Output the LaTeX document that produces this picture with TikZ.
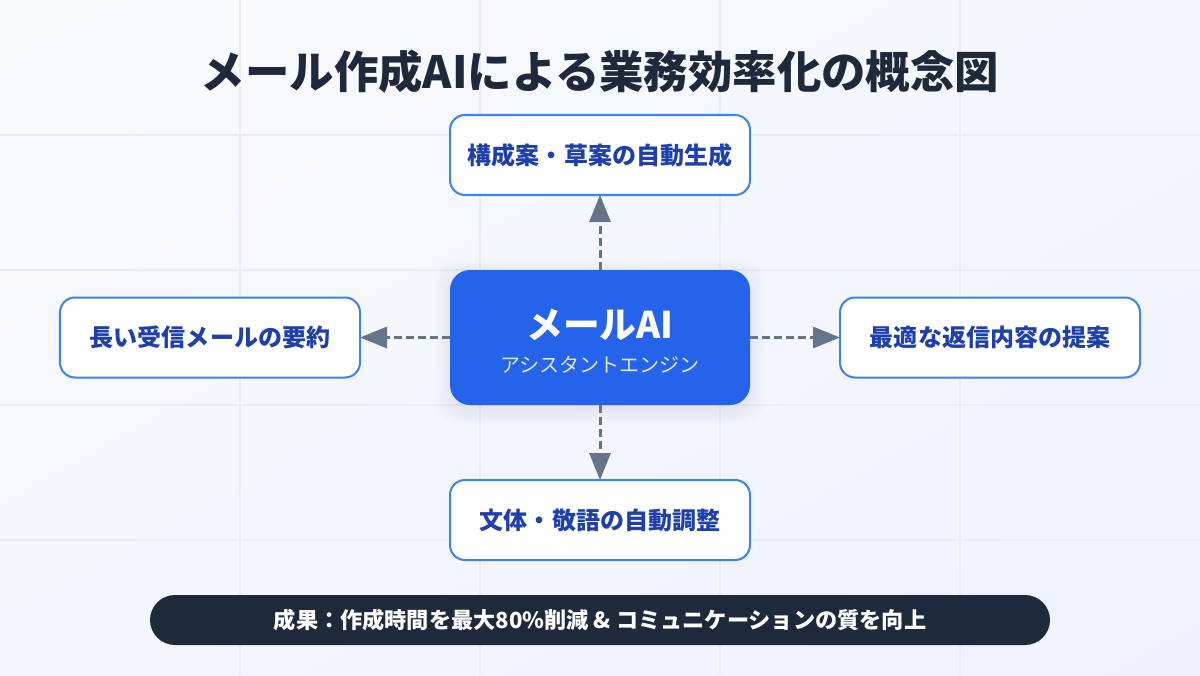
\documentclass[tikz,border=0pt]{standalone}
\usepackage{fontspec}
\setmainfont{Noto Sans CJK JP}
\usetikzlibrary{arrows.meta,positioning,backgrounds,calc,shadings}
\definecolor{mailink}{HTML}{1E293B}
\definecolor{mailblue}{HTML}{2563EB}
\definecolor{mailedge}{HTML}{3B82F6}
\definecolor{mailtext}{HTML}{1E40AF}
\definecolor{mailsub}{HTML}{DBEAFE}
\definecolor{mailarrow}{HTML}{64748B}
\definecolor{mailgrid}{HTML}{E8ECF6}
\definecolor{paperlight}{HTML}{FAFBFF}
\definecolor{papermid}{HTML}{F4F6FF}
\definecolor{paperdark}{HTML}{EEF2FF}
\tikzset{
    taskbox/.style={draw=mailedge, line width=1.14pt, fill=white, rounded corners=0.3cm, outer sep=0pt,
        minimum width=6cm, minimum height=1.6cm, text=mailtext, font=\fontsize{13.66pt}{16pt}\selectfont\bfseries},
    flowarrow/.style={-{Triangle[length=0.54cm,width=0.42cm]}, mailarrow, line width=1.7pt,
        dash pattern=on 4.55pt off 2.3pt},
    gridline/.style={mailgrid, line width=1.14pt}
}
\begin{document}
\begin{tikzpicture}[node distance=1.5cm]
    \useasboundingbox (0,0) rectangle (24,13.5);

    % Centre
    \node [fill=mailblue, rounded corners=0.4cm, outer sep=0pt, minimum width=6cm, minimum height=2.7cm] (engine) at (12,6.75) {};
    \node [text=white, font=\fontsize{20.9pt}{24pt}\selectfont\bfseries] (enginename) at (12,7.0) {メールAI};
    \node [text=mailsub, font=\fontsize{11.38pt}{14pt}\selectfont] (enginesub) at (12,6.2) {アシスタントエンジン};

    % Functions
    \node [taskbox, above=of engine] (draft) {構成案・草案の自動生成};
    \node [taskbox, below=of engine] (tone) {文体・敬語の自動調整};
    \node [taskbox, left=1.8cm of engine] (summary) {長い受信メールの要約};
    \node [taskbox, right=1.8cm of engine] (reply) {最適な返信内容の提案};

    % Title and result
    \node [text=mailink, font=\fontsize{25.26pt}{30pt}\selectfont\bfseries] (title) at (12,12.07) {メール作成AIによる業務効率化の概念図};
    \node [fill=mailink, rounded corners=0.5cm, minimum width=18cm, minimum height=1cm, text=white,
        font=\fontsize{12.62pt}{15pt}\selectfont\bfseries] (result) at (12,1.1) {成果：作成時間を最大80\%削減 \& コミュニケーションの質を向上};

    % Arrows
    \draw [flowarrow] (engine) -- (draft);
    \draw [flowarrow] (engine) -- (tone);
    \draw [flowarrow] (engine) -- (summary);
    \draw [flowarrow] (engine) -- (reply);

    % Background
    \begin{pgfonlayer}{background}
        \shade [upper left=paperlight, upper right=papermid, lower left=papermid, lower right=paperdark] (0,0) rectangle (24,13.5);
        \foreach \x in {4.8,9.6,14.4,19.2}
            \draw [gridline] (\x,0) -- (\x,13.5);
        \foreach \y in {2.7,5.4,8.1,10.8}
            \draw [gridline] (0,\y) -- (24,\y);
        \foreach \s in {0.02,0.06,...,0.3}
            \fill [mailblue!50!black, opacity=0.006, rounded corners=0.45cm]
                ($(engine.south west)+(-\s,-\s-0.08)$) rectangle ($(engine.north east)+(\s,\s-0.08)$);
    \end{pgfonlayer}
\end{tikzpicture}
\end{document}
